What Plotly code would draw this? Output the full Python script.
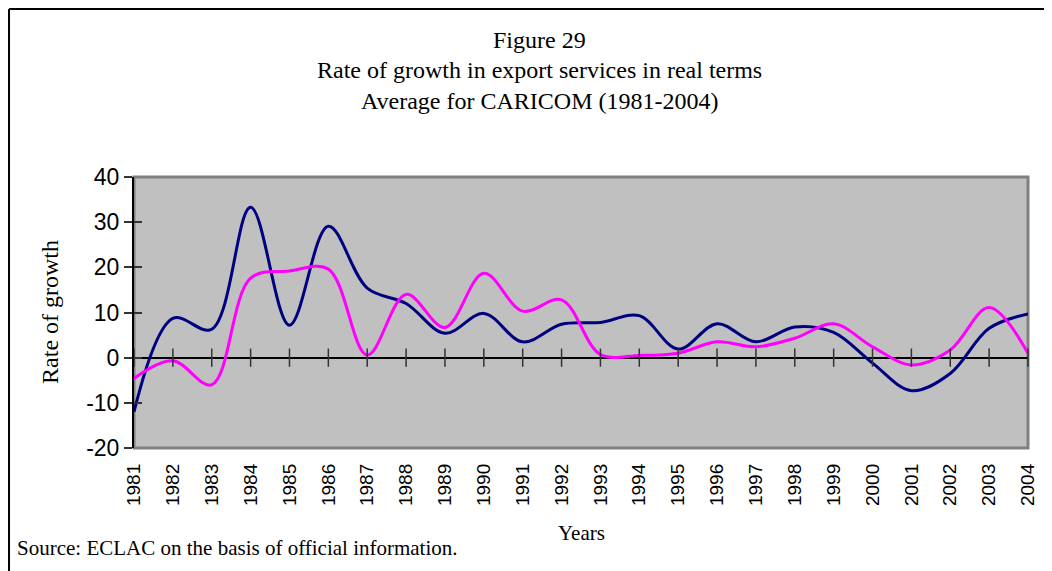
import plotly.graph_objects as go

years = list(range(1981, 2005))

# dark blue series
navy_vals = [-12.0, 8.7, 6.3, 33.3, 7.2, 29.1, 15.4, 12.0, 5.4, 9.8, 3.5, 7.4,
             7.8, 9.3, 1.9, 7.5, 3.5, 6.8, 5.6, -1.2, -7.3, -3.5, 6.5, 9.7]
# magenta series
pink_vals = [-4.6, -0.7, -6.0, 17.6, 19.2, 19.6, 0.6, 14.0, 6.7, 18.7, 10.3, 12.8,
             0.7, 0.5, 1.0, 3.5, 2.4, 4.3, 7.5, 2.4, -1.6, 1.7, 11.1, 1.0]

y_ticks = [-20, -10, 0, 10, 20, 30, 40]

title_lines = ['Figure 29',
               'Rate of growth in export services in real terms',
               'Average for CARICOM (1981-2004)']

serif = 'Liberation Serif'
sans = 'Liberation Sans'

fig = go.Figure()

fig.add_trace(go.Scatter(
    x=years,
    y=navy_vals,
    mode='lines',
    line=dict(color='#000080', width=3, shape='spline', smoothing=1.0),
    hoverinfo='skip'
))

fig.add_trace(go.Scatter(
    x=years,
    y=pink_vals,
    mode='lines',
    line=dict(color='#FF00FF', width=3, shape='spline', smoothing=1.0),
    hoverinfo='skip'
))

# tick marks crossing the zero line (category axis sits at y=0)
fig.add_trace(go.Scatter(
    x=years,
    y=[0] * len(years),
    mode='markers',
    marker=dict(symbol='line-ns', size=13, line=dict(color='#333333', width=1.5)),
    hoverinfo='skip',
    cliponaxis=False
))

# invisible trace to carry the second y axis (inside ticks)
fig.add_trace(go.Scatter(x=[years[0]], y=[0], yaxis='y2', mode='markers',
                         marker=dict(opacity=0), hoverinfo='skip'))

fig.update_layout(
    width=1044,
    height=563,
    margin=dict(l=126, r=24, t=169, b=123),
    paper_bgcolor='white',
    plot_bgcolor='#C0C0C0',
    showlegend=False,
    xaxis=dict(
        range=[1981, 2004],
        tickvals=years,
        ticktext=[str(y) for y in years],
        tickangle=-90,
        tickfont=dict(family=sans, size=19, color='black'),
        showgrid=False,
        zeroline=False,
        showline=False,
        ticks='',
        ticklabelstandoff=11,
    ),
    yaxis=dict(
        range=[-20, 40],
        tickvals=y_ticks,
        ticktext=[str(v) for v in y_ticks],
        tickfont=dict(family=sans, size=23, color='black'),
        showgrid=False,
        zeroline=True,
        zerolinecolor='black',
        zerolinewidth=1.5,
        showline=True,
        linecolor='black',
        linewidth=2,
        ticks='outside',
        ticklen=8,
        tickcolor='#333333',
        tickwidth=1.5,
    ),
    yaxis2=dict(
        range=[-20, 40],
        tickvals=y_ticks,
        overlaying='y',
        side='left',
        showticklabels=False,
        showgrid=False,
        zeroline=False,
        showline=False,
        ticks='inside',
        ticklen=8,
        tickcolor='#333333',
        tickwidth=1.5,
    ),
)

# grey frame of the plot area
fig.add_shape(type='rect', xref='x domain', yref='y domain', x0=0, x1=1, y0=0, y1=1,
              line=dict(color='#808080', width=3), layer='below')

# outer border of the picture (top and left edges visible)
fig.add_shape(type='line', xref='paper', yref='paper', x0=-0.1398, x1=1.1, y0=1.62, y1=1.62,
              line=dict(color='black', width=2))
fig.add_shape(type='line', xref='paper', yref='paper', x0=-0.1398, x1=-0.1398, y0=1.62, y1=-0.5,
              line=dict(color='black', width=2))

for txt, yy in zip(title_lines, [1.5055, 1.3948, 1.2804]):
    fig.add_annotation(text=txt, xref='paper', yref='paper', x=0.454, y=yy,
                       xanchor='center', yanchor='middle', showarrow=False,
                       font=dict(family=serif, size=24, color='black'))

fig.add_annotation(text='Rate of growth', xref='paper', yref='paper', x=-0.094, y=0.502,
                   textangle=-90, xanchor='center', yanchor='middle', showarrow=False,
                   font=dict(family=serif, size=24, color='black'))

fig.add_annotation(text='Years', xref='paper', yref='paper', x=0.501, y=-0.314,
                   xanchor='center', yanchor='middle', showarrow=False,
                   font=dict(family=serif, size=21, color='black'))

fig.add_annotation(text='Source: ECLAC on the basis of official information.', xref='paper', yref='paper',
                   x=-0.133, y=-0.369, xanchor='left', yanchor='middle', showarrow=False,
                   font=dict(family=serif, size=21, color='black'))

fig.write_html('out.html')
